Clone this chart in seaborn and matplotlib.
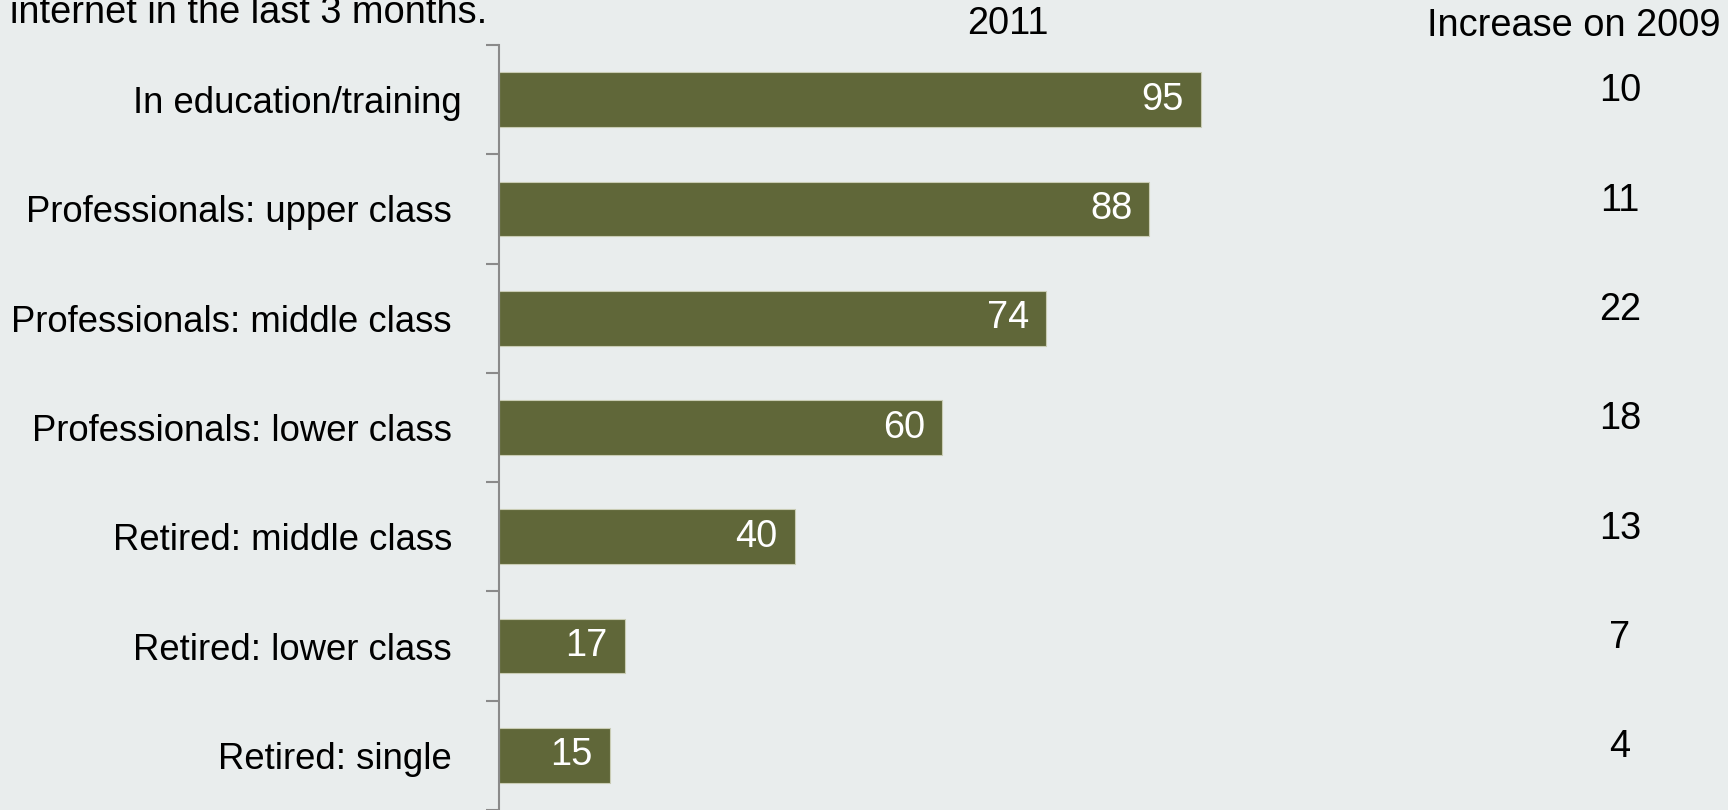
import matplotlib
matplotlib.use("Agg")
import matplotlib.pyplot as plt
import matplotlib.transforms as mtransforms
from matplotlib.ticker import FixedLocator
import seaborn as sns
import pandas as pd

categories = [
    "In education/training",
    "Professionals: upper class ",
    "Professionals: middle class ",
    "Professionals: lower class ",
    "Retired: middle class ",
    "Retired: lower class ",
    "Retired: single ",
]
values_2011 = [95, 88, 74, 60, 40, 17, 15]
increase_on_2009 = [10, 11, 22, 18, 13, 7, 4]
header_2011 = "2011"
header_increase = "Increase on 2009"
title_line = "internet in the last 3 months."

BG = "#E9EDED"
BAR = "#606739"
AXIS = "#8A8A8A"
FS = 27.4
FS_LABEL = 26.3

sns.set_theme(style="white")
plt.rcParams["font.family"] = ["Liberation Sans", "DejaVu Sans"]

W, H, DPI = 1728, 810, 100
fig = plt.figure(figsize=(W / DPI, H / DPI), dpi=DPI, facecolor=BG)

# axes placed in pixel coordinates
left_px, right_px = 499, 499 + 739
top_px, bottom_px = 45, 810
ax = fig.add_axes([left_px / W, 1 - bottom_px / H, (right_px - left_px) / W, (bottom_px - top_px) / H])
ax.set_facecolor(BG)

df = pd.DataFrame({"category": categories, "value": values_2011})
sns.barplot(data=df, x="value", y="category", orient="h", color=BAR, saturation=1,
            width=0.5, edgecolor="#C9CCB4", linewidth=0.8, ax=ax)

ax.set_xlim(0, 100)
ax.set_ylim(len(categories) - 0.5, -0.5)
ax.set_xlabel("")
ax.set_ylabel("")
ax.set_xticks([])

for s in ["top", "right", "bottom"]:
    ax.spines[s].set_visible(False)
ax.spines["left"].set_color(AXIS)
ax.spines["left"].set_linewidth(1.5)

ax.yaxis.set_minor_locator(FixedLocator([i - 0.5 for i in range(len(categories) + 1)]))
ax.tick_params(axis="y", which="minor", length=9.4, width=1.5, color=AXIS, direction="out", left=True)
ax.tick_params(axis="y", which="major", length=0, pad=26.6, labelsize=FS_LABEL, labelcolor="black")

# value labels inside bars
for i, v in enumerate(values_2011):
    ax.annotate(str(v), xy=(v, i), xytext=(-17, 0), textcoords="offset pixels",
                ha="right", va="center", color="white", fontsize=FS)

# increase column
trans = mtransforms.blended_transform_factory(fig.transFigure, ax.transData)
for i, inc in enumerate(increase_on_2009):
    ax.text(1620 / W, i - 0.075, str(inc), transform=trans, ha="center", va="center",
            fontsize=FS, color="black", clip_on=False)

# headers
fig.text(1007.5 / W, 1 - 24 / H, header_2011, ha="center", va="center", fontsize=FS, color="black")
fig.text(1574 / W, 1 - 26 / H, header_increase, ha="center", va="center", fontsize=FS, color="black")

# title (second line visible at top)
fig.text(10 / W, 1 - 23 / H, title_line, ha="left", va="baseline", fontsize=FS, color="black")

fig.savefig("out.png", dpi=DPI, facecolor=BG)
